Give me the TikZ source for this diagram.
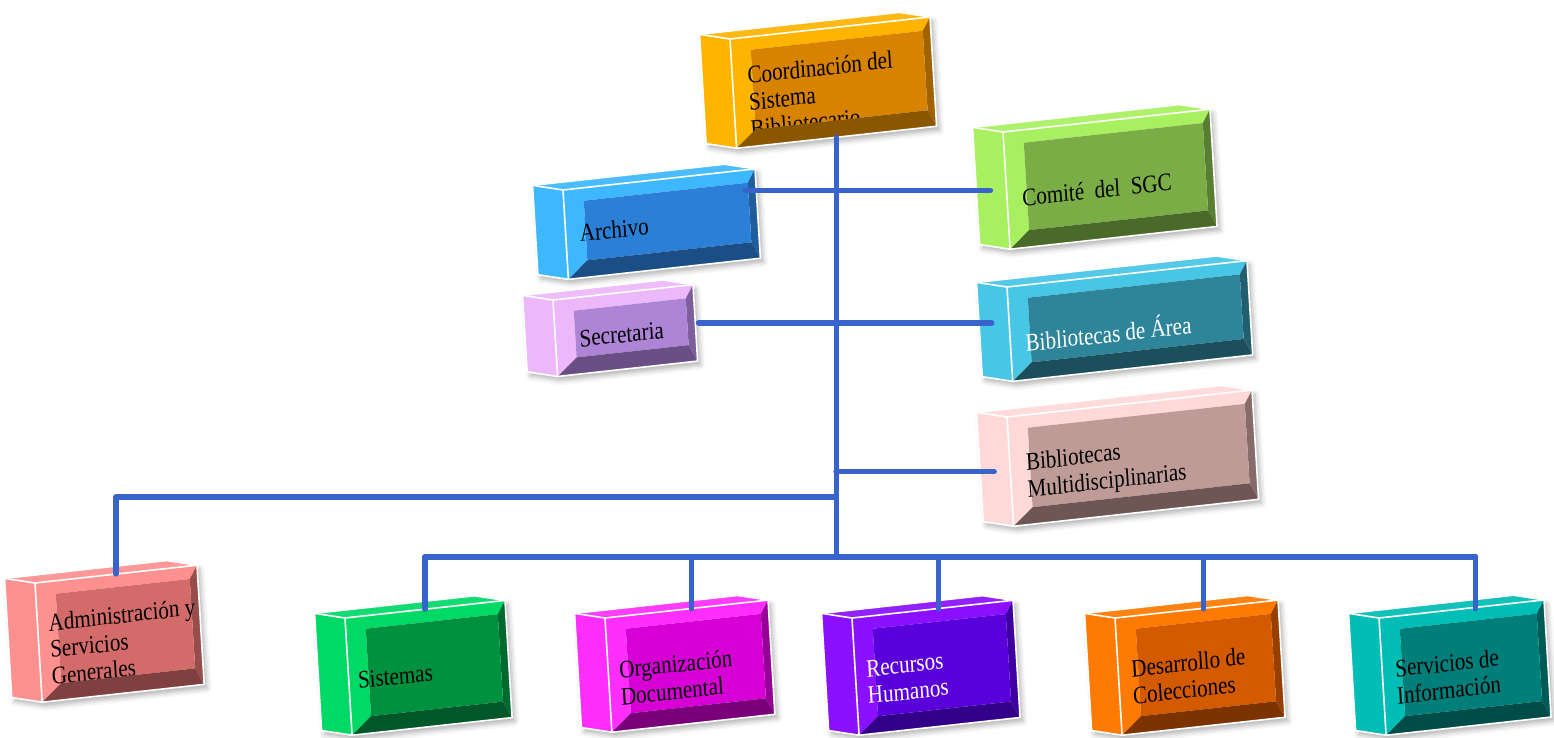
\documentclass[tikz,border=0pt]{standalone}
\usepackage{fontspec}
\newfontfamily\boxfont{Liberation Serif}
\usetikzlibrary{shadows.blur}

\definecolor{linkblue}{HTML}{3763CA}
\definecolor{coordL}{HTML}{FFB400}\definecolor{coordM}{HTML}{D88300}\definecolor{coordD}{HTML}{8A5600}
\definecolor{archL}{HTML}{3DB8FF}\definecolor{archM}{HTML}{2B7FD6}\definecolor{archD}{HTML}{1A4E84}
\definecolor{secrL}{HTML}{EDB8FA}\definecolor{secrM}{HTML}{AD84D6}\definecolor{secrD}{HTML}{6A4F84}
\definecolor{comiL}{HTML}{A8F060}\definecolor{comiM}{HTML}{7AAD45}\definecolor{comiD}{HTML}{4A6A2A}
\definecolor{bareaL}{HTML}{48C6E6}\definecolor{bareaM}{HTML}{2E8599}\definecolor{bareaD}{HTML}{1C4F5C}
\definecolor{bmultL}{HTML}{FFD8D8}\definecolor{bmultM}{HTML}{BF9B98}\definecolor{bmultD}{HTML}{6E5655}
\definecolor{adminL}{HTML}{FF9090}\definecolor{adminM}{HTML}{D46B6B}\definecolor{adminD}{HTML}{7F4040}
\definecolor{sistL}{HTML}{00D966}\definecolor{sistM}{HTML}{00913F}\definecolor{sistD}{HTML}{00582A}
\definecolor{orgdocL}{HTML}{FF2EFF}\definecolor{orgdocM}{HTML}{D600D6}\definecolor{orgdocD}{HTML}{7A007A}
\definecolor{rhL}{HTML}{8A10FF}\definecolor{rhM}{HTML}{5A00DA}\definecolor{rhD}{HTML}{33008A}
\definecolor{descolL}{HTML}{FF7A00}\definecolor{descolM}{HTML}{D45A00}\definecolor{descolD}{HTML}{7D3300}
\definecolor{servinfL}{HTML}{00BDB5}\definecolor{servinfM}{HTML}{007F7A}\definecolor{servinfD}{HTML}{004C48}

\tikzset{
  link/.style={draw=linkblue, line width=5.5, line cap=round, line join=round},
  edge/.style={draw=white, line width=1.6, line join=round},
  boxtext/.style={anchor=west, align=left, inner sep=0, transform shape, yscale=1.2,
    font=\boxfont\fontsize{21}{22.5}\selectfont}
}

% #1 name, #2 front top-left, #3 width, #4 height, #5 colours, #6 text colour, #7 text pos, #8 text
\newcommand{\bevelbox}[8]{%
  \begin{scope}[shift={(#2)}, yslant=0.11, xslant=-0.06]
    \fill[white, blur shadow={shadow xshift=3pt, shadow yshift=-4pt, shadow blur radius=5pt, shadow opacity=30}]
      (-30,-8) -- (#3-30,-8) -- (#3,0) -- (#3,#4) -- (0,#4) -- (-30,#4-8) -- cycle;
    \fill[#5L] (0,0) -- (0,#4) -- (-30,#4-8) -- (-30,-8) -- cycle;
    \fill[#5L!93!white] (0,0) -- (#3,0) -- (#3-30,-8) -- (-30,-8) -- cycle;
    \fill[#5L] (0,0) -- (#3,0) -- (#3-8,13) -- (20,13) -- (20,#4-17) -- (0,#4) -- cycle;
    \fill[#5D!70!#5M] (#3,0) -- (#3,#4) -- (#3-8,#4-17) -- (#3-8,13) -- cycle;
    \fill[#5M] (20,13) rectangle (#3-8,#4-17);
    \node[boxtext, text=#6] at (#7) {#8};
    \fill[#5D] (0,#4) -- (#3,#4) -- (#3-8,#4-17) -- (20,#4-17) -- cycle;
    \draw[edge] (-30,-8) -- (#3-30,-8) -- (#3,0) -- (#3,#4) -- (0,#4) -- (-30,#4-8) -- cycle;
    \draw[edge] (-30,-8) -- (0,0) -- (#3,0) (0,0) -- (0,#4);
    \node[inner sep=0, minimum width=#3, minimum height=#4, transform shape] (#1) at (#3/2,#4/2) {};
  \end{scope}}

\begin{document}
\begin{tikzpicture}[x=1pt, y=-1pt]
  \useasboundingbox (0,0) rectangle (1554,738);

  % top part
  \bevelbox{coord}{730,39}{200}{110}{coord}{black}{15,65}{Coordinación del\\Sistema\\Bibliotecario}
  \bevelbox{arch}{563,190}{192}{90}{arch}{black}{14,45}{Archivo}
  \bevelbox{secr}{553,300}{140}{77}{secr}{black}{24,42}{Secretaria}
  \bevelbox{comi}{1003,132}{207}{118}{comi}{black}{15,68}{Comité\ \ del\ \ SGC}
  \bevelbox{barea}{1007,287}{240}{95}{barea}{white}{15,56}{Bibliotecas de Área}
  \bevelbox{bmult}{1007,417}{245}{110}{bmult}{black}{16,63}{Bibliotecas\\Multidisciplinarias}

  % bottom row
  \bevelbox{admin}{35,583}{162}{120}{admin}{black}{11,68}{Administración y\\Servicios\\Generales}
  \bevelbox{sist}{345,618}{160}{118}{sist}{black}{9,64}{Sistemas}
  \bevelbox{orgdoc}{605,618}{163}{115}{orgdoc}{black}{11,67}{Organización\\Documental}
  \bevelbox{rh}{852,618}{161}{118}{rh}{white}{11,66}{Recursos\\Humanos}
  \bevelbox{descol}{1115,618}{163}{118}{descol}{black}{13,66}{Desarrollo de\\Colecciones}
  \bevelbox{servinf}{1379,618}{165}{118}{servinf}{black}{13,66}{Servicios de\\Información}

  % connectors
  \coordinate (bus) at (836,557);
  \coordinate (split) at (836,497);
  \coordinate (archC) at ([xshift=-13]arch.east);
  \coordinate (secrC) at ([xshift=3]secr.east);
  \coordinate (comiC) at ([xshift=-16]comi.west);
  \coordinate (bareaC) at ([xshift=-18]barea.west);
  \coordinate (bmultC) at ([xshift=-16]bmult.west);

  \draw[link] (coord.south) -- (coord.south |- bus);
  \draw[link] (archC |- comiC) -- (comiC);
  \draw[link] (secrC) -- (secrC -| bareaC);
  \draw[link] (bmultC -| bus) -- (bmultC);
  \draw[link] (split) -| (admin.north);
  \foreach \n/\s in {sist/0, orgdoc/5, rh/6, descol/7, servinf/14} {
    \coordinate (\n-top) at ([xshift=\s]\n.north);
    \draw[link] (\n-top |- bus) -- (\n-top);
  }
  \draw[link] (sist-top |- bus) -- (servinf-top |- bus);
\end{tikzpicture}
\end{document}
